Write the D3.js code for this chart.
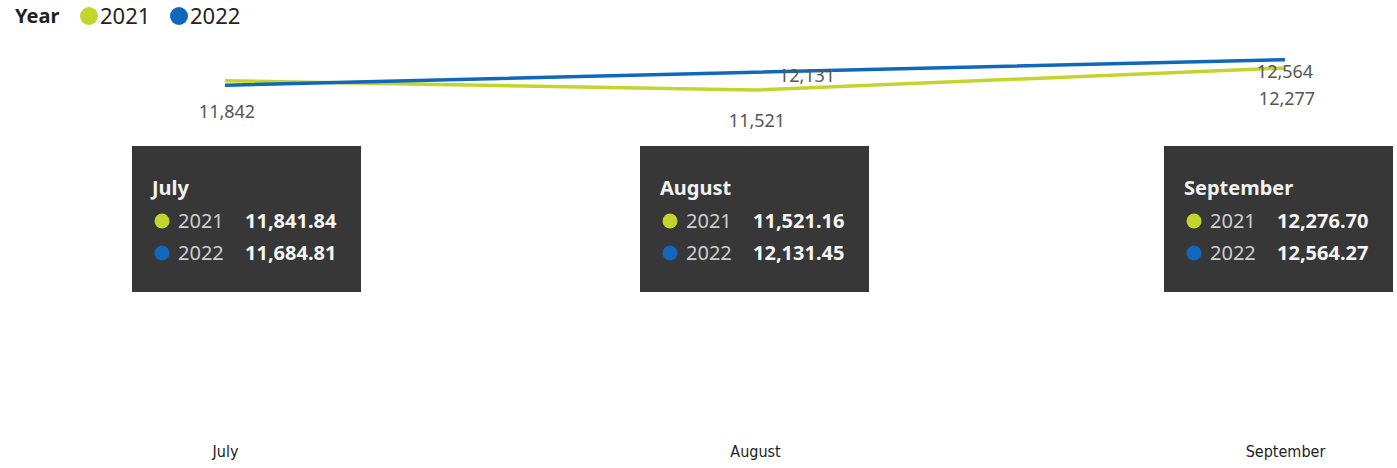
<!DOCTYPE html>
<html>
<head>
<meta charset="utf-8">
<script src="https://cdn.jsdelivr.net/npm/d3@7"></script>
<style>
  body { margin: 0; background: #fff; }
  svg { display: block; font-family: "Noto Sans", "Open Sans", sans-serif; }
</style>
</head>
<body>
<div id="chart"></div>
<script>
// data
var months = ["July", "August", "September"];
var years = ["2021", "2022"];
var values2021 = [11841.84, 11521.16, 12276.70];
var values2022 = [11684.81, 12131.45, 12564.27];
var yearColors = ["#C3D52D", "#1068BC"];

var width = 1397, height = 468;
var margin = { top: 47, right: 112, bottom: 43, left: 225 };

var svg = d3.select("#chart").append("svg")
    .attr("width", width)
    .attr("height", height);

var x = d3.scalePoint()
    .domain(months)
    .range([margin.left, width - margin.right]);

var y = d3.scaleLinear()
    .domain([0, 13000])
    .range([height - margin.bottom, margin.top]);

var series = [
    { year: years[0], values: values2021, color: yearColors[0] },
    { year: years[1], values: values2022, color: yearColors[1] }
];

var fmt0 = d3.format(",.0f");
var fmt2 = d3.format(",.2f");

// legend
var legend = svg.append("g").attr("transform", "translate(15,16)");
legend.append("text")
    .attr("x", 0).attr("y", 0).attr("dy", "0.35em")
    .attr("font-weight", "bold").attr("font-size", 20).attr("fill", "#222")
    .text("Year");
series.forEach(function(s, i) {
    var lx = 74 + i * 90;
    legend.append("circle").attr("cx", lx).attr("cy", 0).attr("r", 9).attr("fill", s.color);
    legend.append("text")
        .attr("x", lx + 11).attr("y", 0).attr("dy", "0.35em")
        .attr("font-size", 22).attr("fill", "#222")
        .text(s.year);
});

// lines
var line = d3.line()
    .x(function(d, i) { return x(months[i]); })
    .y(function(d) { return y(d); });

series.forEach(function(s) {
    svg.append("path")
        .datum(s.values)
        .attr("fill", "none")
        .attr("stroke", s.color)
        .attr("stroke-width", 3.5)
        .attr("d", line);
});

// data labels (2021 below the point, 2022 shifted to avoid overlap; July 2022 hidden)
var labelShift2022 = [null, { dx: 52, dy: 3 }, { dx: 0, dy: 12 }];

svg.selectAll(".lbl2021")
    .data(values2021)
    .enter().append("text")
    .attr("class", "lbl2021")
    .attr("x", function(d, i) { return x(months[i]) + 2; })
    .attr("y", function(d) { return y(d) + 31; })
    .attr("dy", "0.35em")
    .attr("text-anchor", "middle")
    .attr("font-size", 18).attr("fill", "#555")
    .text(function(d) { return fmt0(d); });

var shown2022 = values2022
    .map(function(v, i) { return { v: v, i: i }; })
    .filter(function(d) { return labelShift2022[d.i] !== null; });

svg.selectAll(".lbl2022")
    .data(shown2022)
    .enter().append("text")
    .attr("class", "lbl2022")
    .attr("x", function(d) { return x(months[d.i]) + labelShift2022[d.i].dx; })
    .attr("y", function(d) { return y(d.v) + labelShift2022[d.i].dy; })
    .attr("dy", "0.35em")
    .attr("text-anchor", "middle")
    .attr("font-size", 18).attr("fill", "#555")
    .text(function(d) { return fmt0(d.v); });

// tooltips
var tipOffsets = [-93, -115, -121];
var tipW = 229, tipH = 146, tipTop = 146;

months.forEach(function(m, i) {
    var g = svg.append("g")
        .attr("transform", "translate(" + (x(m) + tipOffsets[i]) + "," + tipTop + ")");
    g.append("rect").attr("width", tipW).attr("height", tipH).attr("fill", "#373737");
    g.append("text")
        .attr("x", 20).attr("y", 49)
        .attr("font-weight", "bold").attr("font-size", 20).attr("fill", "#f2f2f2")
        .text(m);
    series.forEach(function(s, j) {
        var ry = 75 + j * 32;
        g.append("circle").attr("cx", 30).attr("cy", ry).attr("r", 7.5).attr("fill", s.color);
        g.append("text")
            .attr("x", 46).attr("y", ry).attr("dy", "0.35em")
            .attr("font-size", 20).attr("fill", "#cfcfcf")
            .text(s.year);
        g.append("text")
            .attr("x", 113).attr("y", ry).attr("dy", "0.35em")
            .attr("font-weight", "bold").attr("font-size", 20).attr("fill", "#f5f5f5")
            .text(fmt2(s.values[i]));
    });
});

// x axis labels
var xAxis = d3.axisBottom(x).tickSize(0).tickPadding(0);
var axisG = svg.append("g")
    .attr("transform", "translate(0," + (height - 17) + ")")
    .call(xAxis);
axisG.select(".domain").remove();
axisG.selectAll("text")
    .attr("font-family", "'DejaVu Sans Condensed', 'DejaVu Sans', sans-serif")
    .style("font-stretch", "condensed")
    .attr("font-size", 16)
    .attr("fill", "#222")
    .attr("dy", "0.35em")
    .attr("y", 0);
</script>
</body>
</html>
